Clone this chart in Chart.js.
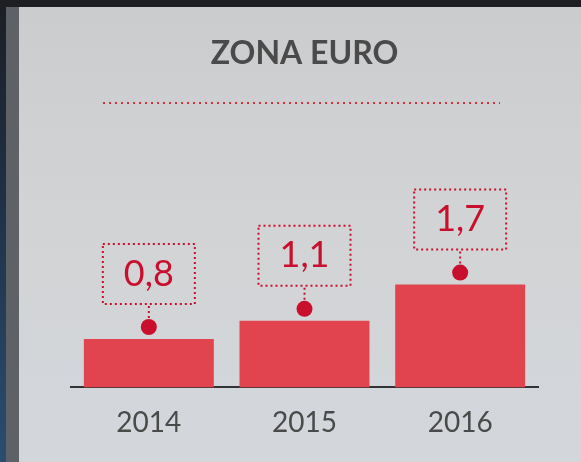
<!DOCTYPE html>
<html>
<head>
<meta charset="utf-8">
<script src="https://cdn.jsdelivr.net/npm/chart.js@4/dist/chart.umd.min.js"></script>
<style>
  html, body { margin: 0; padding: 0; }
  body {
    width: 581px; height: 462px; overflow: hidden; position: relative;
    background: linear-gradient(180deg, #1c1f24 0%, #1f2f44 40%, #2b4d70 100%);
  }
  #strip {
    position: absolute; left: 6px; top: 7px; width: 13px; height: 455px;
    background: #5e6266;
  }
  #panel {
    position: absolute; left: 19px; top: 7px; right: 0; bottom: 0;
    background: linear-gradient(180deg, #cbcccd 0%, #d2d3d4 45%, #d3d7dc 100%);
  }
  #topband {
    position: absolute; left: 0; top: 0; width: 581px; height: 7px; background: #1e1f22;
  }
  #wrap { position: absolute; left: 0; top: 0; width: 581px; height: 462px; }
</style>
</head>
<body>
<div id="topband"></div>
<div id="strip"></div>
<div id="panel"></div>
<div id="wrap"><canvas id="chart"></canvas></div>
<script>
const title = "ZONA EURO";
const years = ["2014", "2015", "2016"];
const growth = [0.8, 1.1, 1.7];

const RED = "#c8102e";
const FONT = "Lato, 'Open Sans', sans-serif";

// dotted rule under the title + dot/box callouts over each bar
const calloutPlugin = {
  id: "callouts",
  afterDraw(chart) {
    const ctx = chart.ctx;
    ctx.save();
    ctx.strokeStyle = "#d6303f";
    ctx.lineWidth = 2;
    ctx.setLineDash([2, 4]);
    ctx.beginPath();
    ctx.moveTo(103, 103);
    ctx.lineTo(500, 103);
    ctx.stroke();

    const meta = chart.getDatasetMeta(0);
    meta.data.forEach((bar, i) => {
      const x = bar.x;
      const top = bar.y;
      // dot
      ctx.setLineDash([]);
      ctx.fillStyle = RED;
      ctx.beginPath();
      ctx.arc(x, top - 12, 8, 0, Math.PI * 2);
      ctx.fill();
      // connector
      ctx.strokeStyle = RED;
      ctx.lineWidth = 2;
      ctx.setLineDash([2, 3]);
      ctx.beginPath();
      ctx.moveTo(x, top - 21);
      ctx.lineTo(x, top - 35);
      ctx.stroke();
      // box
      const w = 92, h = 60;
      ctx.strokeRect(x - w / 2, top - 35 - h, w, h);
      // value
      ctx.fillStyle = RED;
      ctx.font = "36px " + FONT;
      ctx.textAlign = "center";
      ctx.textBaseline = "middle";
      ctx.fillText(growth[i].toFixed(1).replace(".", ","), x, top - 35 - h / 2);
    });
    ctx.restore();
  }
};

new Chart(document.getElementById("chart"), {
  type: "bar",
  data: {
    labels: years,
    datasets: [{
      data: growth,
      backgroundColor: "#e2444f",
      borderWidth: 0,
      categoryPercentage: 1,
      barPercentage: 0.835
    }]
  },
  options: {
    responsive: true,
    maintainAspectRatio: false,
    animation: false,
    layout: { padding: { left: 71, right: 43, top: 0, bottom: 3 } },
    plugins: {
      legend: { display: false },
      tooltip: { enabled: false },
      title: {
        display: true,
        text: title,
        color: "#4a4a4a",
        font: { family: FONT, size: 32, weight: "bold" },
        padding: { top: 34, bottom: 73 }
      }
    },
    scales: {
      x: {
        grid: { display: false, drawTicks: false },
        border: { display: true, color: "#333333", width: 2 },
        ticks: { color: "#4a4a4a", font: { family: FONT, size: 28 }, padding: 19 }
      },
      y: {
        display: false,
        min: 0,
        max: 4
      }
    }
  },
  plugins: [calloutPlugin]
});
</script>
</body>
</html>
